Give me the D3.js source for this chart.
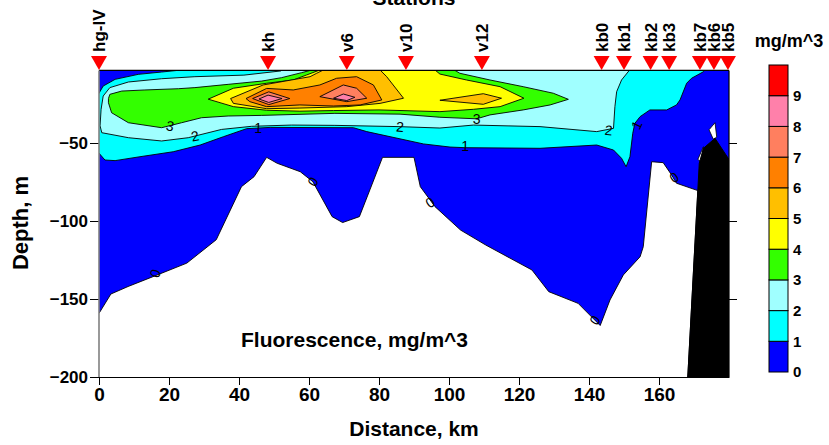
<!DOCTYPE html>
<html>
<head>
<meta charset="utf-8">
<script src="https://cdn.jsdelivr.net/npm/d3@7/dist/d3.min.js"></script>
<style>
  body { margin: 0; background: #fff; }
  text { font-family: "Liberation Sans", Arial, sans-serif; }
</style>
</head>
<body>
<script>
// stations along the section (km)
var stationNames = ['hg-IV', 'kh', 'v6', 'v10', 'v12', 'kb0', 'kb1', 'kb2', 'kb3', 'kb7', 'kb6', 'kb5'];
var stationKm = [0, 48.3, 70.8, 87.7, 109.4, 143.6, 150, 157.6, 162.9, 171.7, 175.7, 179.7];

var xTicks = [0, 20, 40, 60, 80, 100, 120, 140, 160];
var yTicks = [-50, -100, -150, -200];

// colour levels, mg/m^3
var levels = [0, 1, 2, 3, 4, 5, 6, 7, 8, 9];
var levelColors = ['#0000FF', '#00FFFF', '#A0FFFF', '#33FF00', '#FFFF00', '#FFBF00', '#FF8000', '#FF7F5F', '#FF80AA', '#FF0000'];

var band0 = [[-1, -1], [182, -1], [182, -201], [168.2, -201], [171.1, -80.5], [165, -75.8], [163.6, -70.5],
  [161.2, -62.6], [157.9, -62], [155.5, -116.5], [154.6, -122.9], [149.8, -134.6], [146, -150.6], [143.2, -167],
  [136.9, -152.8], [128.5, -145.3], [123.7, -131.4], [110.5, -115.4], [103.3, -105.8], [96, -90.8], [91.8, -78],
  [90, -59.2], [81, -59.2], [77.4, -80], [74.4, -97.2], [69.6, -101], [66.6, -97.2], [61.1, -74.8], [57.5, -68.4],
  [50.9, -63], [47.9, -59.2], [44.3, -71.6], [40.7, -78], [33.5, -112], [25.1, -127], [15.4, -135.7], [8.3, -142],
  [3.4, -146.8], [0, -159.2], [-1, -159.2]];

var band1 = [[24, -1], [23.6, -3.2], [17.9, -4.5], [11.2, -6], [4.6, -9.2], [1.2, -13.5], [-0.2, -18.8], [-1, -19],
  [-1, -56], [-0.2, -56], [1.7, -60.9], [4.6, -61.3], [11.7, -58.8], [21.2, -55.6], [28.9, -51.3], [35.5, -46],
  [42.2, -40.8], [48.9, -40], [72.7, -40.2], [76.5, -42.7], [92.7, -50.6], [100.3, -52.6], [104.6, -53],
  [126, -53.4], [142.2, -51.3], [147, -54.5], [149.3, -59.8], [150.6, -65.2], [151.7, -58.8], [152.5, -43.8],
  [153.1, -37.4], [154.6, -33.1], [157.4, -28.8], [162.2, -28.8], [165, -25.6], [166, -22.4], [167.9, -11.7],
  [169.3, -8.5], [172.7, -4.3], [173.1, -3.2], [173.5, -1]];

var band2 = [[52.5, -1], [52, -3.8], [41.4, -6.5], [27.4, -7.5], [17.9, -8.8], [8.4, -10.9], [3.1, -14.5],
  [1.2, -19.9], [0.6, -28.4], [0.3, -39], [0.8, -43.4], [8.4, -46.6], [17.9, -48.7], [25.5, -46.6], [35, -41.3],
  [43.6, -39.3], [55, -38.5], [67.4, -38.7], [85.7, -39.5], [97.4, -40.4], [107, -38.5], [126, -39.5],
  [142.2, -42.7], [147, -40.6], [147.4, -26.7], [147.9, -17.1], [149.3, -9.6], [151.6, -3.2], [152, -1]];

var band3 = [[61.5, -1], [60.8, -3.2], [57.9, -4.9], [52.2, -8.1], [46.5, -10.3], [36.9, -12.4], [27.4, -14.5],
  [22.7, -15.2], [13.1, -16], [6.5, -16.7], [3.1, -18.8], [2.7, -21.5], [2.7, -24.2], [3.6, -30.6], [8.4, -37],
  [17.9, -40.2], [23.6, -37], [29.3, -33.8], [36.9, -32.7], [46.5, -32.3], [67.4, -31], [86, -31.5],
  [97.4, -33.5], [107.9, -34.5], [111.7, -32], [121.2, -28.8], [128.9, -25.6], [134.1, -22], [129.8, -18.1],
  [121.2, -13.9], [111.7, -9.6], [103.1, -5.3], [101.5, -3.2], [102, -1]];

var band4 = [[63.5, -1], [63.1, -3.2], [59.3, -6.4], [55.5, -9.6], [47.9, -11.7], [38.4, -14.9], [31.2, -21.9],
  [38.4, -26.7], [47.9, -29], [57.4, -29.6], [67, -29.2], [80, -28.8], [97.4, -29.9], [107, -28.4],
  [114.6, -26.7], [121.4, -21.3], [114.6, -13.9], [105, -9.6], [97.4, -5.8], [96, -3.2], [96, -1]];

var band5 = [[64.5, -1], [64.1, -3.2], [62.2, -5.3], [60.3, -7.5], [46.9, -12.8], [37.6, -21.5], [38.4, -24.6],
  [47.9, -28], [57.4, -27.6], [70.8, -26.7], [80.3, -24.6], [87, -21.3], [82.2, -7.5], [80.3, -3.2], [80.3, -1]];
var band5b = [[97.4, -22.6], [109.8, -18.4], [115, -21.3], [109.8, -25.2]];

var band6 = [[42, -21.5], [47.9, -15], [55.5, -16], [63.1, -12.8], [67.9, -8.5], [73.6, -7.5], [78.4, -12.8],
  [80.8, -22.4], [74.6, -25.6], [67, -26.3], [57.4, -25.6], [47.9, -26.7], [43.1, -23.5]];

var band7 = [[43.9, -21.5], [48.5, -17.2], [54.5, -21.5], [48.5, -25.4]];
var band7b = [[63.1, -20.3], [69.8, -12.8], [73.6, -14.9], [76.5, -21.3], [70.8, -23.5]];

var band8 = [[45.7, -21.8], [48.3, -19.3], [52.3, -21.5], [48.5, -24]];
var band8b = [[67, -21.3], [69.8, -18.6], [73.1, -20.7], [70.8, -22.8]];

// blanked bottom
var land = [[168.2, -201], [171.5, -63], [172.7, -53.4], [176, -47], [180.1, -60.9], [182, -61], [182, -201]];
var gapA = [[171.1, -60.5], [172.7, -52.4], [172, -62]];
var gapB = [[174.3, -41.5], [176, -37], [176.5, -46.3], [175.5, -47.5]];

// contour labels: text, km, depth, angle
var labelText = ['3', '2', '1', '2', '3', '1', '2', '1', '0', '0', '0', '0', '0'];
var labelKm = [20.3, 27.4, 45.5, 86, 107.9, 104.6, 145.6, 153.6, 16, 61.1, 94.6, 141.7, 164.3];
var labelDepth = [-39.1, -45.5, -40.2, -39.5, -34.8, -51.9, -41.7, -38.5, -133.5, -74.8, -88, -163.5, -72];
var labelAngle = [12, -12, 0, 4, 0, 0, 6, -65, -70, -55, -35, -55, -35];

var topDepth = -3.5;

var x = d3.scaleLinear().domain([0, 180]).range([99, 729]);
var y = d3.scaleLinear().domain([0, -200]).range([65, 377]);

var svg = d3.select('body').append('svg')
    .attr('width', 829)
    .attr('height', 445);

svg.append('clipPath').attr('id', 'plotclip')
    .append('rect')
    .attr('x', x(0))
    .attr('y', y(topDepth))
    .attr('width', x(180) - x(0))
    .attr('height', y(-200) - y(topDepth));

var plot = svg.append('g').attr('clip-path', 'url(#plotclip)');

var line = d3.line()
    .x(function (d) { return x(d[0]); })
    .y(function (d) { return y(d[1]); });

var bands = [
    [band0, 0], [band1, 1], [band2, 2], [band3, 3], [band4, 4], [band5, 5], [band5b, 5],
    [band6, 6], [band7, 7], [band7b, 7], [band8, 8], [band8b, 8]
];

plot.selectAll('.band')
    .data(bands)
    .enter()
    .append('path')
    .attr('class', 'band')
    .attr('d', function (d) { return line(d[0]) + 'Z'; })
    .attr('fill', function (d) { return levelColors[d[1]]; })
    .attr('stroke', '#000')
    .attr('stroke-width', 0.9)
    .attr('stroke-linejoin', 'round');

plot.selectAll('.gap')
    .data([gapA, gapB])
    .enter()
    .append('path')
    .attr('d', function (d) { return line(d) + 'Z'; })
    .attr('fill', '#fff')
    .attr('stroke', '#000')
    .attr('stroke-width', 0.8);

plot.append('path')
    .attr('d', line(land) + 'Z')
    .attr('fill', '#000')
    .attr('stroke', '#000');

plot.selectAll('.clabel')
    .data(labelText)
    .enter()
    .append('text')
    .attr('class', 'clabel')
    .attr('transform', function (d, i) {
        return 'translate(' + x(labelKm[i]) + ',' + y(labelDepth[i]) + ') rotate(' + labelAngle[i] + ')';
    })
    .attr('text-anchor', 'middle')
    .attr('dy', '0.36em')
    .attr('font-size', 14)
    .attr('fill', '#000')
    .text(function (d) { return d; });

// frame
svg.append('line')
    .attr('x1', x(0)).attr('x2', x(180))
    .attr('y1', y(topDepth)).attr('y2', y(topDepth))
    .attr('stroke', '#000').attr('stroke-width', 1.2);

var left = svg.append('g')
    .attr('transform', 'translate(' + x(0) + ',0)')
    .call(d3.axisLeft(y).tickValues(yTicks).tickSize(9).tickSizeOuter(0).tickPadding(2));
left.select('.domain').remove();
left.append('line')
    .attr('y1', y(topDepth)).attr('y2', y(-200))
    .attr('stroke', '#808080').attr('stroke-width', 1.6);
left.selectAll('text')
    .attr('font-size', 17).attr('font-weight', 'bold').attr('fill', '#000')
    .attr('font-family', '"Liberation Sans", Arial, sans-serif');

var right = svg.append('g')
    .attr('transform', 'translate(' + x(180) + ',0)')
    .call(d3.axisRight(y).tickValues([-50, -100, -150]).tickSize(8).tickSizeOuter(0).tickFormat(''));
right.select('.domain').remove();
right.append('line')
    .attr('y1', y(topDepth)).attr('y2', y(-200))
    .attr('stroke', '#000').attr('stroke-width', 1.2);

var bottom = svg.append('g')
    .attr('transform', 'translate(0,' + y(-200) + ')')
    .call(d3.axisBottom(x).tickValues(xTicks).tickSize(8).tickSizeOuter(0).tickPadding(3));
bottom.select('.domain').attr('stroke-width', 1.2);
bottom.selectAll('text')
    .attr('font-size', 19).attr('font-weight', 'bold').attr('fill', '#000')
    .attr('font-family', '"Liberation Sans", Arial, sans-serif');

// titles
svg.append('text')
    .attr('x', 414).attr('y', 436)
    .attr('text-anchor', 'middle')
    .attr('font-size', 21).attr('font-weight', 'bold')
    .text('Distance, km');

svg.append('text')
    .attr('transform', 'translate(28,223) rotate(-90)')
    .attr('text-anchor', 'middle')
    .attr('font-size', 22).attr('font-weight', 'bold')
    .text('Depth, m');

svg.append('text')
    .attr('x', 414).attr('y', 5)
    .attr('text-anchor', 'middle')
    .attr('font-size', 21).attr('font-weight', 'bold')
    .text('Stations');

svg.append('text')
    .attr('x', 241).attr('y', 347)
    .attr('font-size', 21).attr('font-weight', 'bold')
    .text('Fluorescence, mg/m^3');

// stations
var st = svg.selectAll('.station')
    .data(stationNames)
    .enter()
    .append('g')
    .attr('class', 'station');

st.append('path')
    .attr('d', function (d, i) {
        var cx = x(stationKm[i]);
        return 'M' + (cx - 8) + ',56L' + (cx + 8) + ',56L' + cx + ',70Z';
    })
    .attr('fill', '#FF0000');

st.append('text')
    .attr('transform', function (d, i) {
        return 'translate(' + (x(stationKm[i]) + 6) + ',52) rotate(-90)';
    })
    .attr('font-size', 17).attr('font-weight', 'bold')
    .text(function (d) { return d; });

// colour bar
var barTop = 65, barBottom = 372, barX = 769, barW = 19;
var yBar = d3.scaleLinear().domain([0, 10]).range([barBottom, barTop]);

svg.selectAll('.legbox')
    .data(levels)
    .enter()
    .append('rect')
    .attr('x', barX)
    .attr('y', function (d) { return yBar(d + 1); })
    .attr('width', barW)
    .attr('height', function (d) { return yBar(d) - yBar(d + 1); })
    .attr('fill', function (d, i) { return levelColors[i]; })
    .attr('stroke', '#000')
    .attr('stroke-width', 1);

svg.selectAll('.leglabel')
    .data(levels)
    .enter()
    .append('text')
    .attr('x', barX + barW + 5)
    .attr('y', function (d) { return yBar(d); })
    .attr('dy', '0.36em')
    .attr('font-size', 15).attr('font-weight', 'bold')
    .text(function (d) { return d; });

svg.append('text')
    .attr('x', 789).attr('y', 47)
    .attr('text-anchor', 'middle')
    .attr('font-size', 18).attr('font-weight', 'bold')
    .text('mg/m^3');
</script>
</body>
</html>
